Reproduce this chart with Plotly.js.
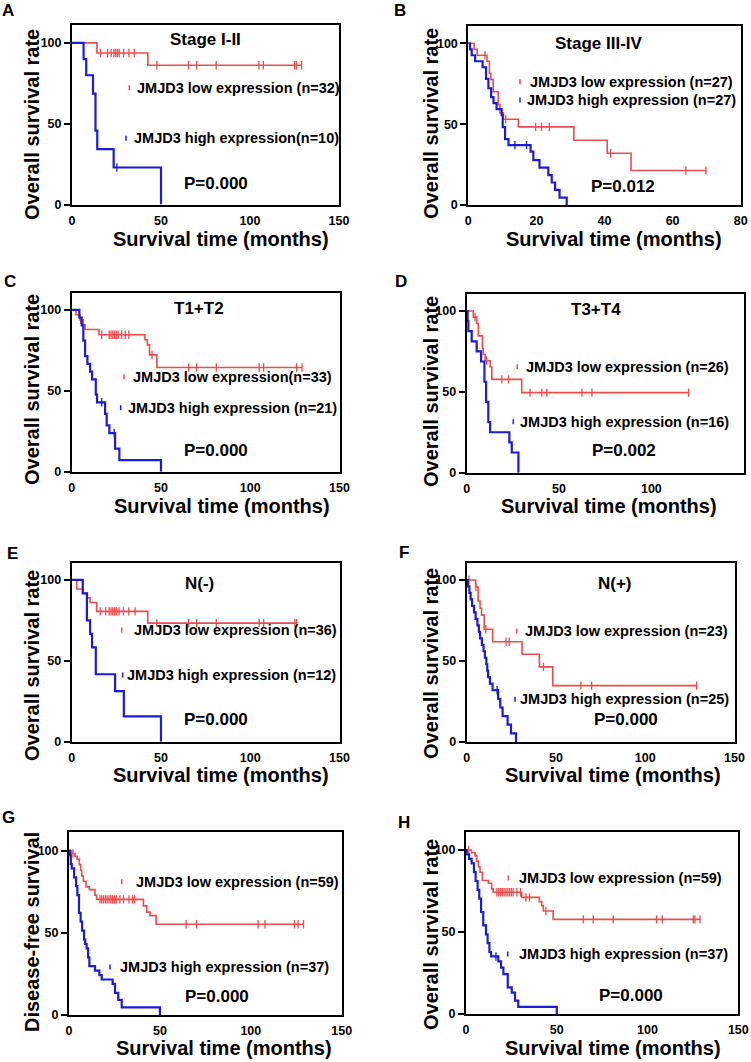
<!DOCTYPE html>
<html>
<head>
<meta charset="utf-8">
<script src="https://cdn.plot.ly/plotly-3.0.1.min.js"></script>
<style>
  html, body { margin: 0; padding: 0; background: #fff; }
  #plot { width: 751px; height: 1062px; }
</style>
</head>
<body>
<div id="plot"></div>
<script>
// ---- data ----
const panelLetters = ['A', 'B', 'C', 'D', 'E', 'F', 'G', 'H'];
const panelTitles = ['Stage I-II', 'Stage III-IV', 'T1+T2', 'T3+T4', 'N(-)', 'N(+)', '', ''];
const lowLabels = [
  'JMJD3 low expression (n=32)', 'JMJD3 low expression (n=27)',
  'JMJD3 low expression(n=33)', 'JMJD3 low expression (n=26)',
  'JMJD3 low expression (n=36)', 'JMJD3 low expression (n=23)',
  'JMJD3 low expression (n=59)', 'JMJD3 low expression (n=59)'
];
const highLabels = [
  'JMJD3 high expression(n=10)', 'JMJD3 high expression (n=27)',
  'JMJD3 high expression (n=21)', 'JMJD3 high expression (n=16)',
  'JMJD3 high expression (n=12)', 'JMJD3 high expression (n=25)',
  'JMJD3 high expression (n=37)', 'JMJD3 high expression (n=37)'
];
const pValues = ['P=0.000', 'P=0.012', 'P=0.000', 'P=0.002', 'P=0.000', 'P=0.000', 'P=0.000', 'P=0.000'];
const yTitles = ['Overall survival rate', 'Overall survival rate', 'Overall survival rate', 'Overall survival rate',
  'Overall survival rate', 'Overall survival rate', 'Disease-free survival', 'Overall survival rate'];
const xTitle = 'Survival time (months)';
const xMax = [150, 80, 150, 150, 150, 150, 150, 150];
const xTicks150 = [0, 50, 100, 150];
const xTicks80 = [0, 20, 40, 60, 80];
const yTicks = [0, 50, 100];

// A: Stage I-II
const lowTimesA = [14, 42.6];
const lowSurvA = [93.8, 86.2];
const lowCensA = [16, 20, 22, 23.5, 24.5, 25.5, 26.5, 29, 32, 35, 47.7, 65.5, 70, 81, 105, 107.5, 125, 126, 129];
const highTimesA = [6.5, 8, 11.8, 13.2, 14.2, 23.4, 50];
const highSurvA = [90, 80, 68.6, 45.7, 34.3, 22.9, 0];
const highCensA = [25.2];

// B: Stage III-IV
const lowTimesB = [1.7, 2.6, 5.5, 6.2, 6.6, 7.3, 8.8, 9.3, 10.3, 14.7, 31, 40.8, 47.8];
const lowSurvB = [96.3, 92.6, 88.9, 81.5, 77.7, 70, 62, 57, 53, 48.3, 40, 32, 21.3];
const lowCensB = [4.9, 11, 19.8, 21.5, 23.8, 41.8, 63.9, 69.8];
const highTimesB = [0.5, 1.0, 2.0, 4.2, 5.2, 5.9, 6.7, 7.4, 8.3, 9.8, 10.1, 10.8, 11.8, 18.3, 19.1, 20.9, 23.5, 24.5, 25.5, 26.8, 28.9];
const highSurvB = [96.3, 92.6, 88.9, 85.2, 78, 72.2, 66.7, 63, 59.3, 55.6, 48.1, 40.7, 37, 33, 27.8, 23.1, 18.5, 13.9, 9.3, 4.6, 0];
const highCensB = [13.7, 17.1];

// C: T1+T2
const lowTimesC = [2.4, 4.7, 6.5, 7.5, 15.3, 41, 42.4, 43.6, 47.7];
const lowSurvC = [97, 93.9, 90.9, 87.9, 84.7, 81.6, 78.4, 72.2, 64.4];
const lowCensC = [5, 16.8, 21, 22, 23, 24, 25, 26, 28, 30, 32, 45, 65.5, 70, 81, 105, 107.5, 126, 129];
const highTimesC = [4.3, 5.6, 6.5, 7.5, 8.8, 10.3, 11.4, 13.5, 14.2, 18.7, 19.6, 21.1, 24.3, 26.7, 50];
const highSurvC = [95.2, 90.5, 81, 71.4, 66.7, 61.9, 57.1, 47.6, 42.9, 35.7, 28.6, 23.8, 14.3, 7.1, 0];
const highCensC = [16.8, 23.8];

// D: T3+T4
const lowTimesD = [3.6, 5.4, 6.3, 8.5, 9.0, 10.0, 12.7, 13.6, 29.8];
const lowSurvD = [96.2, 92.3, 84.6, 76.9, 73.1, 69.2, 65.4, 57.7, 49.5];
const lowCensD = [4.5, 10.8, 19, 22.6, 34.3, 40.7, 43.4, 62.4, 67.8, 120.2];
const highTimesD = [0.5, 0.9, 2.7, 5.4, 7.8, 9.6, 10.5, 11.7, 12.7, 23.1, 24.4, 28];
const highSurvD = [93.75, 87.5, 81.25, 75, 68.75, 56.25, 43.75, 31.25, 25, 18.75, 12.5, 0];
const highCensD = [];

// E: N(-)
const lowTimesE = [2.8, 6.5, 8.8, 10.3, 14, 42.6];
const lowSurvE = [94.4, 91.7, 88.9, 86.1, 80.6, 73.3];
const lowCensE = [16, 19, 21, 22, 23, 24, 25, 26.5, 29, 32, 35.5, 47.7, 65.5, 70, 81, 105, 107.5, 125, 126];
const highTimesE = [6.2, 8.5, 10.3, 11.4, 13.5, 24.3, 29.2, 50];
const highSurvE = [91.7, 75, 66.7, 58.3, 41.7, 31.3, 15.6, 0];
const highCensE = [];

// F: N(+)
const lowTimesF = [5, 6.4, 7.5, 8.3, 9.8, 14.5, 31, 40.7, 48.2];
const lowSurvF = [95.7, 87, 82.6, 78.3, 69.6, 61.9, 54.2, 46.4, 34.8];
const lowCensF = [1.3, 5.2, 10.7, 22, 23.8, 43, 64, 70, 128.8];
const highTimesF = [0.7, 1.5, 2.2, 3.0, 4.1, 5.0, 6.0, 6.8, 7.5, 8.5, 9.4, 10.2, 11.0, 11.5, 12.0, 13.0, 14.5, 17.6, 18.8, 20.1, 22.9, 24.8, 27.6];
const highSurvF = [96, 92, 88, 84, 80, 76, 72, 68, 64, 60, 56, 52, 48, 44, 40, 36, 32, 26.7, 21.3, 16, 10.7, 5.3, 0];
const highCensF = [17];

// G: disease-free survival, all patients
const lowTimesG = [1.5, 3.3, 4.5, 5.7, 6.4, 7, 7.9, 9.4, 11.2, 14.3, 15.2, 40.9, 42.7, 44.6, 47.9];
const lowSurvG = [98.3, 96.6, 94.9, 91.5, 88.1, 84.7, 81.4, 78, 76.3, 72.9, 70.4, 66.4, 62.6, 60.5, 55.2];
const lowCensG = [2.2, 17, 18, 19, 20, 21, 22, 23, 24, 25, 26, 28, 30, 33, 35, 36, 64.4, 70.2, 104, 107.8, 124, 126, 129];
const highTimesG = [0.5, 1.0, 1.5, 2.8, 3.9, 4.6, 5.5, 6.4, 7.2, 8.3, 8.9, 9.7, 10.5, 11.2, 14.3, 16.7, 18, 24, 25.3, 27.1, 29, 50];
const highSurvG = [97.3, 91.9, 89.2, 83.8, 78.4, 73, 62.2, 56.8, 51.4, 45.9, 43.2, 40.5, 35.1, 29.7, 27, 24.3, 21.6, 18.9, 13.5, 9.2, 4.6, 0];
const highCensG = [];

// H: overall survival, all patients
const lowTimesH = [3.1, 5.0, 5.9, 6.8, 7.7, 9.0, 12.3, 14.1, 15.0, 30.7, 40.4, 41.7, 42.6, 48];
const lowSurvH = [98.3, 96.6, 93.2, 89.8, 86.4, 81.4, 79.7, 76.3, 74.2, 71.1, 68.5, 66.1, 62.8, 57.7];
const lowCensH = [1.5, 17, 18, 19, 20, 21, 22, 23, 24, 25, 26, 28, 30, 33, 35, 44, 64.6, 70.1, 81.1, 105, 108.1, 125.2, 126.1, 128.9];
const highTimesH = [0.4, 1.7, 3.1, 4.4, 5.3, 6.4, 7.3, 8.3, 9.5, 11, 11.9, 12.9, 13.8, 17.8, 19.3, 20.6, 23, 25.2, 27, 28.8, 50];
const highSurvH = [97.3, 94.6, 91.9, 86.5, 81.1, 75.7, 70.3, 62.2, 54.1, 48.6, 43.2, 37.8, 35.1, 32.1, 28.3, 24.3, 16.2, 13, 8.1, 4.3, 0];
const highCensH = [16.5];

const lowTimes = [lowTimesA, lowTimesB, lowTimesC, lowTimesD, lowTimesE, lowTimesF, lowTimesG, lowTimesH];
const lowSurv = [lowSurvA, lowSurvB, lowSurvC, lowSurvD, lowSurvE, lowSurvF, lowSurvG, lowSurvH];
const lowCens = [lowCensA, lowCensB, lowCensC, lowCensD, lowCensE, lowCensF, lowCensG, lowCensH];
const highTimes = [highTimesA, highTimesB, highTimesC, highTimesD, highTimesE, highTimesF, highTimesG, highTimesH];
const highSurv = [highSurvA, highSurvB, highSurvC, highSurvD, highSurvE, highSurvF, highSurvG, highSurvH];
const highCens = [highCensA, highCensB, highCensC, highCensD, highCensE, highCensF, highCensG, highCensH];

// ---- layout geometry (page pixels) ----
const W = 751, H = 1062;
const FONT = 'Liberation Sans, Arial, sans-serif';
const RED = '#ee4c4c';
const BLUE = '#1b1bdc';
// plot boxes: left, top, right, bottom
const boxes = [
  [72, 24.5, 339, 204.5], [468.3, 26, 740.7, 205],
  [71.7, 293.3, 339.5, 471.7], [466.7, 294, 743.7, 472.7],
  [71.7, 563.3, 339.5, 741.7], [466.7, 563.3, 734.5, 742],
  [69, 832.3, 341.7, 1015], [466, 832.3, 738.3, 1014]
];
const yTop = [111.4, 110.7, 110.3, 110.5, 110.3, 110.3, 111.2, 110.8];
const letterPos = [[8, 11], [400, 11], [10, 281], [401, 281], [12, 553], [404, 552], [8, 817], [404, 822]];
const titlePos = [[205, 39.3], [599, 43.3], [198.7, 308.3], [595.7, 309.3], [199, 583.3], [615, 583.3], null, null];
const lowPos = [[129.3, 135, 87.7], [520, 527.7, 81.7], [124, 131, 376.7], [517.3, 524, 366.7],
  [121.7, 131.7, 630], [516.7, 522.7, 631], [121.7, 134, 881.7], [508.3, 516.7, 878]];
const highPos = [[126, 131.7, 138.3], [520, 525, 100], [120.7, 126, 407.7], [513.3, 518.3, 421.7],
  [122.7, 125, 675], [515, 517.7, 699.3], [110, 118.3, 967], [507.7, 516.7, 954]];
const pPos = [[216, 183.3], [623, 186.7], [216, 450], [624.3, 450], [216, 719.3], [625.7, 719.3], [217.3, 996], [631.3, 995]];
const xTitlePos = [[221, 239], [614, 239], [222, 506], [609, 506], [221, 775], [613, 775], [223.5, 1048], [613, 1048]];
const yTitlePos = [[32, 125], [431, 124], [32, 390], [431, 392], [32, 666], [431, 664], [32, 932], [431, 935]];

const fx = x => x / W;
const fy = y => 1 - y / H;

function stepCurve(times, surv, cens) {
  const x = [0], y = [100];
  times.forEach((t, i) => { x.push(t); y.push(surv[i]); });
  const end = Math.max(times[times.length - 1], ...cens);
  if (end > x[x.length - 1]) { x.push(end); y.push(y[y.length - 1]); }
  return { x, y };
}

function survAt(times, surv, t) {
  let s = 100;
  times.forEach((tt, i) => { if (tt <= t) s = surv[i]; });
  return s;
}

const traces = [];
const layout = {
  width: W, height: H,
  margin: { l: 0, r: 0, t: 0, b: 0 },
  paper_bgcolor: '#fff', plot_bgcolor: '#fff',
  showlegend: false,
  font: { family: FONT, color: '#000' },
  annotations: [],
  shapes: []
};

const bold = (size) => ({ family: FONT, size: size, color: '#000', weight: 'bold' });

panelLetters.forEach((letter, i) => {
  const xa = i === 0 ? 'x' : 'x' + (i + 1);
  const ya = i === 0 ? 'y' : 'y' + (i + 1);
  const b = boxes[i];

  [[lowTimes[i], lowSurv[i], lowCens[i], RED, 1.6], [highTimes[i], highSurv[i], highCens[i], BLUE, 2.2]].forEach(([t, s, c, col, w]) => {
    const curve = stepCurve(t, s, c);
    traces.push({
      x: curve.x, y: curve.y, xaxis: xa, yaxis: ya,
      type: 'scatter', mode: 'lines', line: { shape: 'hv', color: col, width: w },
      hoverinfo: 'skip'
    });
    if (c.length) {
      traces.push({
        x: c, y: c.map(ct => survAt(t, s, ct)), xaxis: xa, yaxis: ya,
        type: 'scatter', mode: 'markers',
        marker: { symbol: 'line-ns', size: 6, color: col, line: { color: col, width: 1.3 } },
        hoverinfo: 'skip'
      });
    }
  });

  const key = i === 0 ? '' : String(i + 1);
  layout['xaxis' + key] = {
    domain: [fx(b[0]), fx(b[2])], anchor: ya, range: [0, xMax[i]],
    tickvals: xMax[i] === 80 ? xTicks80 : xTicks150,
    ticks: 'outside', ticklen: 3, tickcolor: 'rgba(0,0,0,0)',
    showline: true, linecolor: '#000', linewidth: 2, mirror: true,
    showgrid: false, zeroline: false, tickfont: bold(12.5)
  };
  layout['yaxis' + key] = {
    domain: [fy(b[3]), fy(b[1])], anchor: xa, range: [0, yTop[i]],
    tickvals: yTicks, ticks: 'outside', ticklen: 6, tickwidth: 2, tickcolor: '#000',
    showline: true, linecolor: '#000', linewidth: 2, mirror: true,
    showgrid: false, zeroline: false, tickfont: bold(12.5)
  };

  const ann = (x, y, text, size, extra) => layout.annotations.push(Object.assign({
    xref: 'paper', yref: 'paper', x: fx(x), y: fy(y), text: text, showarrow: false,
    font: bold(size), xanchor: 'center', yanchor: 'middle'
  }, extra || {}));

  ann(letterPos[i][0], letterPos[i][1], letter, 17);
  if (titlePos[i]) ann(titlePos[i][0], titlePos[i][1], panelTitles[i], 17);
  ann(lowPos[i][1], lowPos[i][2], lowLabels[i], 14.5, { xanchor: 'left' });
  ann(highPos[i][1], highPos[i][2], highLabels[i], 14.5, { xanchor: 'left' });
  ann(pPos[i][0], pPos[i][1], pValues[i], 17);
  ann(xTitlePos[i][0], xTitlePos[i][1], xTitle, 20);
  ann(yTitlePos[i][0], yTitlePos[i][1], yTitles[i], 20, { textangle: -90 });

  [[lowPos[i][0], lowPos[i][2], RED], [highPos[i][0], highPos[i][2], BLUE]].forEach(([mx, my, col]) => {
    layout.shapes.push({
      type: 'line', xref: 'paper', yref: 'paper',
      x0: fx(mx), x1: fx(mx), y0: fy(my - 2.5), y1: fy(my + 2.5),
      line: { color: col, width: 1.5 }
    });
  });
});

Plotly.newPlot('plot', traces, layout, { staticPlot: true, displayModeBar: false });
</script>
</body>
</html>
